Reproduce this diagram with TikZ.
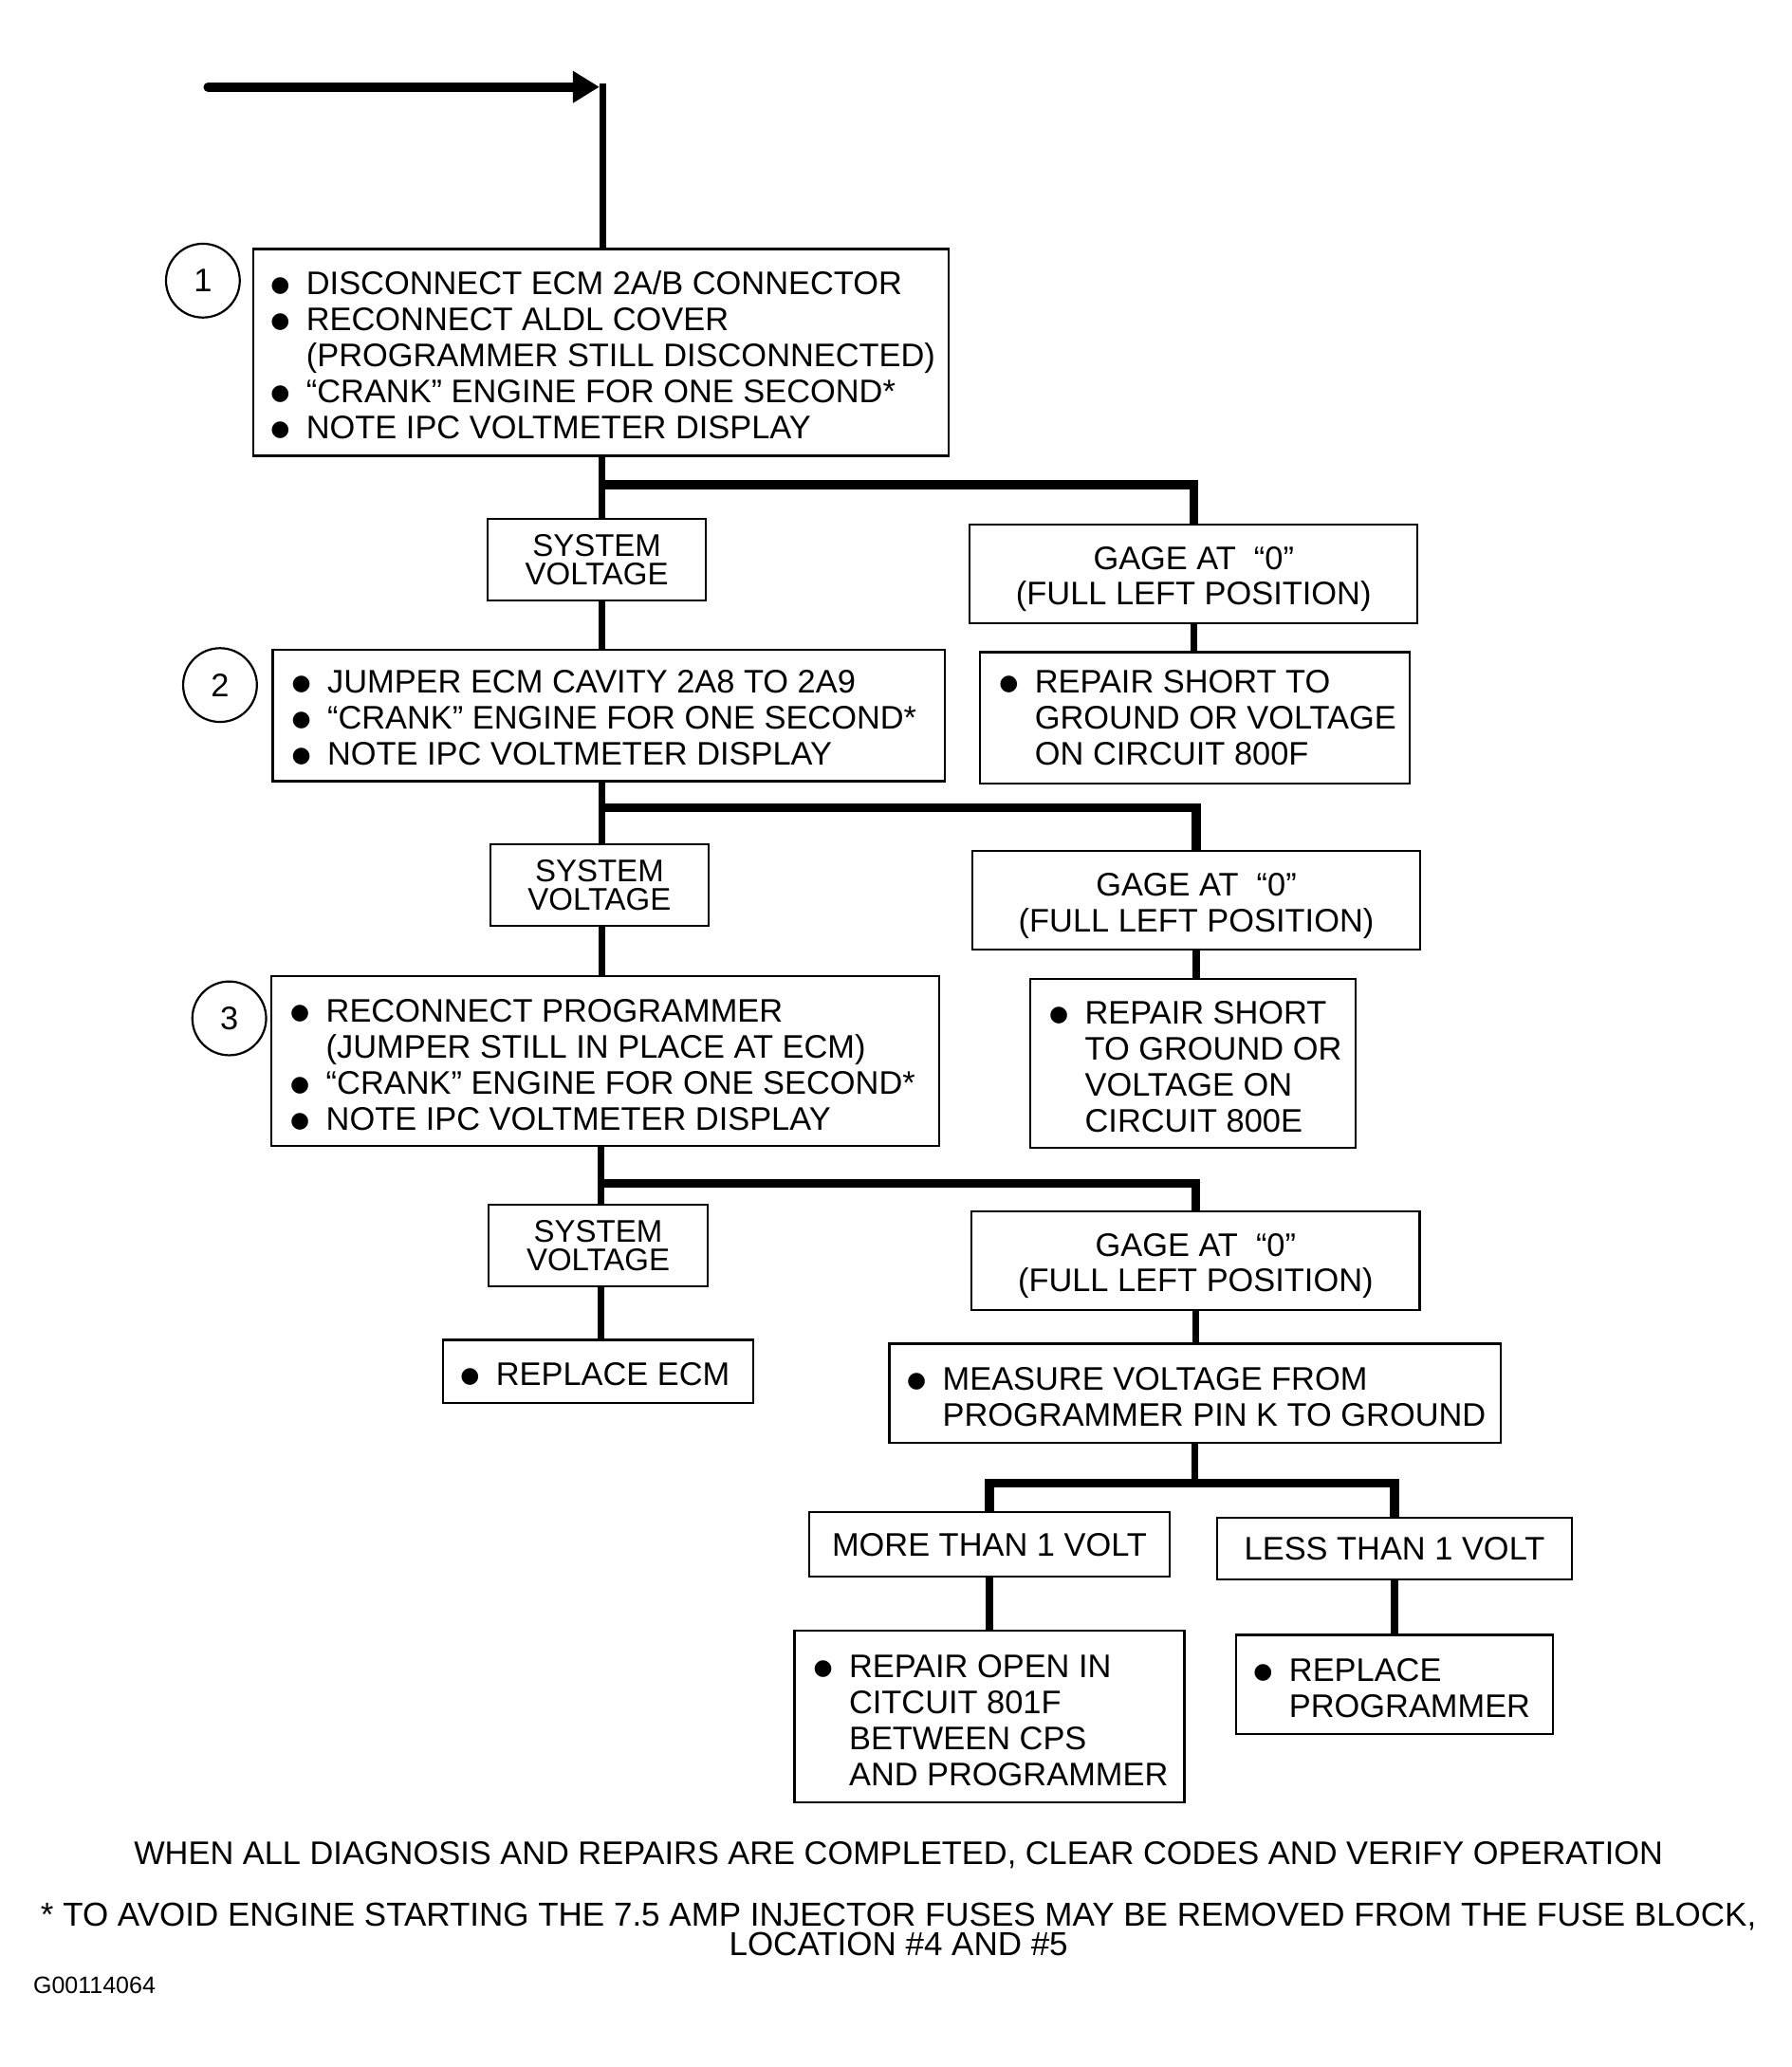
\documentclass[tikz,border=0pt]{standalone}
\usepackage{fontspec}
\setmainfont{Liberation Sans}
\newfontfamily\djv{DejaVu Sans}
\usetikzlibrary{calc,arrows.meta}
\newcommand\bul{\makebox[18.75pt][l]{\raisebox{1.6pt}{\djv\fontsize{11.5}{11.5}\selectfont ●}}}
\newcommand\ind{\hspace*{18.75pt}}
\begin{document}
\begin{tikzpicture}[x=0.6945pt,y=-0.6945pt,
  box/.style 2 args={draw, line width=1.1pt, minimum width=#1*0.6945pt, minimum height=#2*0.6945pt, inner sep=0pt},
  mainfont/.style={font=\fontsize{17.2}{19}\selectfont},
  txt/.style={mainfont, align=left, inner sep=0pt, anchor=west},
  svbox/.style={box={166}{62}, font=\fontsize{16.5}{15.3}\selectfont, align=center},
  gbox/.style={box={340}{75}},
  gtxt/.style={font=\fontsize{17.2}{18.75}\selectfont, align=center, inner sep=0pt},
  circ/.style={draw, circle, line width=1.1pt, minimum size=56*0.6945pt, inner sep=0pt, mainfont},
  conn/.style={line width=3.6pt},
  bar/.style={line width=4.6pt, line join=miter},
  arrowline/.style={line width=5pt, line cap=round, -{Triangle[length=14pt,width=16pt]}},
  note/.style={font=\fontsize{17.5}{15.5}\selectfont, align=center, inner sep=0pt}
]
\fill[white] (0,0) rectangle (1360,1569);
\useasboundingbox (0,0) rectangle (1360,1569);

% boxes
\node[box={528}{157}] (B1) at (456,267.5) {};
\node[svbox] (SV1) at (453,425) {SYSTEM\\VOLTAGE};
\node[gbox] (G1) at (906,435.5) {};
\node[box={510}{100}] (B2) at (462,543) {};
\node[box={326}{100}] (R1) at (907,545) {};
\node[svbox] (SV2) at (455,672) {SYSTEM\\VOLTAGE};
\node[gbox] (G2) at (908,683.5) {};
\node[box={507}{129}] (B3) at (459.5,805.5) {};
\node[box={247}{128}] (R2) at (905.5,807) {};
\node[svbox] (SV3) at (454,945.5) {SYSTEM\\VOLTAGE};
\node[gbox] (G3) at (907.5,957) {};
\node[box={236}{48}] (RE) at (454,1041) {};
\node[box={464}{75}] (M) at (907,1057.5) {};
\node[box={274}{49}, mainfont] (MT) at (751,1172.5) {\raisebox{-2pt}{MORE THAN 1 VOLT}};
\node[box={269}{47}, mainfont] (LT) at (1058.5,1175.5) {\raisebox{-1.5pt}{LESS THAN 1 VOLT}};
\node[box={296}{130}] (RO) at (751,1303) {};
\node[box={241}{75}] (RP) at (1058.5,1278.5) {};

% gage texts
\node[gtxt] (G1t) at ($(G1.center)+(0,4)$) {GAGE AT \ “0”\\(FULL LEFT POSITION)};
\node[gtxt] (G2t) at ($(G2.center)+(0,4)$) {GAGE AT \ “0”\\(FULL LEFT POSITION)};
\node[gtxt] (G3t) at ($(G3.center)+(0,4)$) {GAGE AT \ “0”\\(FULL LEFT POSITION)};

% box texts
\node[txt] (B1t) at ($(B1.west)+(14,2)$) {\bul DISCONNECT ECM 2A/B CONNECTOR\\
  \bul RECONNECT ALDL COVER\\
  \ind(PROGRAMMER STILL DISCONNECTED)\\
  \bul “CRANK” ENGINE FOR ONE SECOND*\\
  \bul NOTE IPC VOLTMETER DISPLAY};
\node[txt] (B2t) at ($(B2.west)+(15,2)$) {\bul JUMPER ECM CAVITY 2A8 TO 2A9\\
  \bul “CRANK” ENGINE FOR ONE SECOND*\\
  \bul NOTE IPC VOLTMETER DISPLAY};
\node[txt] (R1t) at ($(R1.west)+(15,0)$) {\bul REPAIR SHORT TO\\
  \ind GROUND OR VOLTAGE\\
  \ind ON CIRCUIT 800F};
\node[txt] (B3t) at ($(B3.west)+(15,3)$) {\bul RECONNECT PROGRAMMER\\
  \ind(JUMPER STILL IN PLACE AT ECM)\\
  \bul “CRANK” ENGINE FOR ONE SECOND*\\
  \bul NOTE IPC VOLTMETER DISPLAY};
\node[txt] (R2t) at ($(R2.west)+(15,3)$) {\bul REPAIR SHORT\\
  \ind TO GROUND OR\\
  \ind VOLTAGE ON\\
  \ind CIRCUIT 800E};
\node[txt] (REt) at ($(RE.west)+(14,2)$) {\bul REPLACE ECM};
\node[txt] (Mt) at ($(M.west)+(14,3)$) {\bul MEASURE VOLTAGE FROM\\
  \ind PROGRAMMER PIN K TO GROUND};
\node[txt] (ROt) at ($(RO.west)+(15,3)$) {\bul REPAIR OPEN IN\\
  \ind CITCUIT 801F\\
  \ind BETWEEN CPS\\
  \ind AND PROGRAMMER};
\node[txt] (RPt) at ($(RP.west)+(14,3)$) {\bul REPLACE\\
  \ind PROGRAMMER};

% circles
\node[circ] (C1) at (154,213) {1};
\node[circ] (C2) at (167,520) {2};
\node[circ] (C3) at (174,773) {3};

% entry arrow
\coordinate (S) at (158,66);
\coordinate (E) at (455,66);
\coordinate (K) at (457.5,63.5);
\draw[arrowline] (S) -- (E);
\draw[conn] (K) -- (K |- B1.north);

% junction 1
\coordinate (t1) at (457,368);
\draw[conn] (B1.south -| t1) -- (SV1.north -| t1);
\draw[bar] (t1) -| (G1.north);
\draw[conn] (SV1.south -| t1) -- (B2.north -| t1);
\draw[conn] (G1.south) -- (G1.south |- R1.north);

% junction 2
\coordinate (t2) at (457,613);
\draw[conn] (B2.south -| t2) -- (SV2.north -| t2);
\draw[bar] (t2) -| (G2.north);
\draw[conn] (SV2.south -| t2) -- (B3.north -| t2);
\draw[conn] (G2.south) -- (G2.south |- R2.north);

% junction 3
\coordinate (t3) at (456,898);
\draw[conn] (B3.south -| t3) -- (SV3.north -| t3);
\draw[bar] (t3) -| (G3.north);
\draw[conn] (SV3.south -| t3) -- (RE.north -| t3);
\draw[conn] (G3.south) -- (G3.south |- M.north);

% junction 4
\coordinate (t4) at (907,1126);
\draw[conn] (M.south) -- (t4);
\draw[bar] (MT.north) |- (t4) -| (LT.north);
\draw[conn] (MT.south) -- (MT.south |- RO.north);
\draw[conn] (LT.south) -- (LT.south |- RP.north);

% bottom notes
\node[note, font=\fontsize{17.2}{15.5}\selectfont] (N1) at (682,1408) {WHEN ALL DIAGNOSIS AND REPAIRS ARE COMPLETED, CLEAR CODES AND VERIFY OPERATION};
\node[note, anchor=north] (N2) at (682,1444) {* TO AVOID ENGINE STARTING THE 7.5 AMP INJECTOR FUSES MAY BE REMOVED FROM THE FUSE BLOCK,\\LOCATION \#4 AND \#5};
\node[font=\fontsize{12.5}{12.5}\selectfont, anchor=west, inner sep=0pt] (ID) at (25,1507) {G00114064};
\end{tikzpicture}
\end{document}
